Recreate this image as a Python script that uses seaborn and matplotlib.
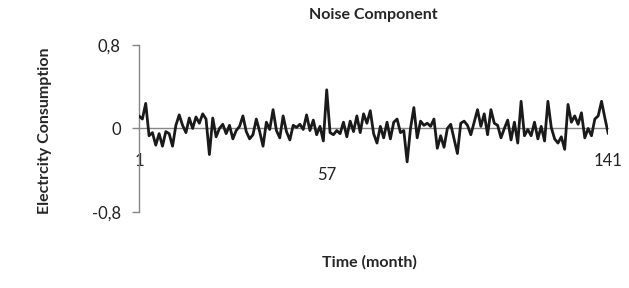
import matplotlib
matplotlib.use("Agg")
import matplotlib.pyplot as plt
import seaborn as sns
import numpy as np
import pandas as pd

# ---- data ----
months = list(range(1, 142))
noise = [
    0.12, 0.09, 0.24, -0.07, -0.04, -0.16, -0.05, -0.17, -0.03, -0.05, -0.17,
    0.03, 0.13, 0.03, -0.04, 0.10, 0.00, 0.11, 0.05, 0.14, 0.09, -0.25,
    0.10, -0.08, 0.00, 0.04, -0.05, 0.03, -0.10, -0.02, 0.02, 0.12, -0.03, -0.10,
    -0.06, 0.09, -0.03, -0.17, 0.06, -0.01, 0.18, -0.02, -0.09, 0.12, -0.03, -0.11,
    0.03, 0.01, 0.04, -0.01, 0.13, -0.02, 0.08, -0.06, 0.02, -0.12,
    0.37,
    -0.04, -0.06, -0.02, -0.05, 0.06, -0.08, 0.07, -0.03, 0.12, -0.04, 0.14, 0.05,
    0.17,
    -0.05, -0.14, 0.02, -0.09, 0.06, -0.10, 0.06, 0.09, -0.04, -0.02, -0.32, 0.00,
    0.20, -0.09, 0.07, 0.03, 0.05, 0.02, 0.09, -0.19, -0.07, -0.18, 0.00,
    0.04, -0.10, -0.24, 0.05, 0.07, 0.03, -0.06, 0.06, 0.18, 0.02, 0.14, -0.06,
    0.18, 0.05, 0.03, -0.09, 0.00, 0.08, -0.11, 0.06, -0.14, 0.26, -0.07,
    -0.01, -0.07, 0.06, -0.10, 0.02, -0.12, 0.26, 0.01, -0.10, -0.14, -0.08, -0.20,
    0.23, 0.06, 0.12, 0.04, 0.15, -0.09, 0.00, -0.07, 0.09, 0.12, 0.26, 0.10, -0.05,
]
x_ticks = [1, 57, 141]
x_tick_labels = ["1", "57", "141"]
y_ticks = [-0.8, 0, 0.8]
y_tick_labels = ["-0,8", "0", "0,8"]

df = pd.DataFrame({"month": months, "noise": noise})

sns.set_theme(style="white")
plt.rcParams["font.family"] = ["Lato", "DejaVu Sans"]

grey = "#868686"
fig = plt.figure(figsize=(6.29, 2.88), dpi=100)
ax = fig.add_axes([0.221, 0.264, 0.746, 0.58])

sns.lineplot(data=df, x="month", y="noise", ax=ax, color="#1a1a1a",
             linewidth=2.0, zorder=3)

ax.set_xlim(1, 141)
ax.set_ylim(-0.8, 0.8)

for s in ["top", "right"]:
    ax.spines[s].set_visible(False)
ax.spines["bottom"].set_position(("data", 0))
ax.spines["bottom"].set_color(grey)
ax.spines["bottom"].set_linewidth(1.0)
ax.spines["bottom"].set_zorder(2)
ax.spines["left"].set_color(grey)
ax.spines["left"].set_linewidth(1.0)

ax.set_yticks(y_ticks)
ax.set_yticklabels(y_tick_labels, fontsize=12, color="#222222")
ax.tick_params(axis="y", direction="out", length=5, width=1.0, color=grey,
               pad=8, left=True)
ax.set_xticks(x_ticks)
ax.set_xticklabels(x_tick_labels, fontsize=12, color="#222222")
ax.tick_params(axis="x", length=0, pad=18, bottom=True)
ax.xaxis.get_major_ticks()[1].set_pad(28)

ax.set_title("Noise Component", fontsize=11.5, fontweight="bold", pad=19)
ax.set_xlabel("")
ax.set_ylabel("")
fig.text(0.588, 0.09, "Time (month)", fontsize=11.5, fontweight="bold",
         ha="center", va="center")
fig.text(0.072, 0.545, "Electrcity Consumption", fontsize=11.5, fontweight="bold",
         ha="center", va="center", rotation=90)

fig.savefig("out.png", dpi=100)
